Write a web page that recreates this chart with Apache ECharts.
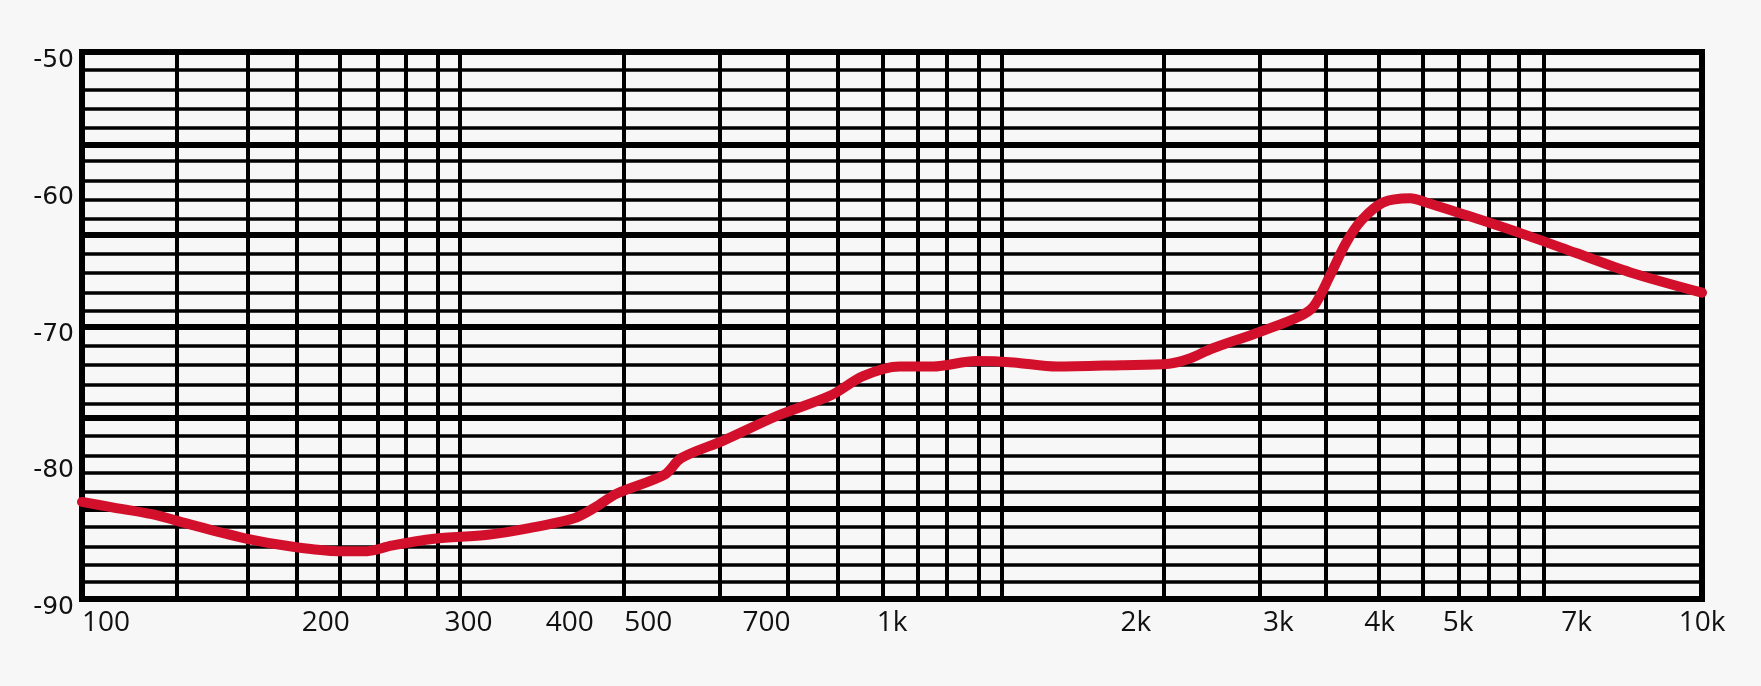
<!DOCTYPE html>
<html>
<head>
<meta charset="utf-8">
<style>
  html, body { margin: 0; padding: 0; background: #f7f7f7; }
  #chart { width: 1761px; height: 686px; }
</style>
<script src="https://cdn.jsdelivr.net/npm/echarts@6/dist/echarts.min.js"></script>
</head>
<body>
<div id="chart"></div>
<script>
// response curve (Hz, dB)
var freqs = [100, 109, 122, 137, 160, 183, 207, 225, 241, 272, 317, 358, 405, 430, 457,
    524, 549, 620, 722, 841, 921, 1022, 1124, 1270, 1413, 1596, 1916, 2198, 2335, 2480,
    2804, 3168, 3316, 3470, 3632, 3800, 4042, 4362, 4565, 5156, 6003, 6993, 8142, 10000];
var levels = [-82.9, -83.3, -83.8, -84.6, -85.6, -86.2, -86.5, -86.5, -86.1, -85.6, -85.3, -84.8, -84.1, -83.3, -82.3,
    -80.9, -79.7, -78.4, -76.6, -75.1, -73.7, -73.0, -73.0, -72.6, -72.7, -73.0, -72.9, -72.8, -72.4, -71.7,
    -70.6, -69.4, -68.6, -66.4, -64.0, -62.3, -61.0, -60.7, -61.0, -62.0, -63.3, -64.7, -66.1, -67.6];

// axis labels
var xTicks = [100, 200, 300, 400, 500, 700, 1000, 2000, 3000, 4000, 5000, 7000, 10000];

// paper grid lines as drawn on the sheet
var hThin = [-51.32, -52.78, -54.17, -55.52, -57.97, -59.43, -60.82, -62.18, -64.74, -66.16,
    -67.59, -68.94, -71.46, -72.89, -74.31, -75.70, -78.08, -79.54, -80.79, -82.18,
    -84.74, -86.20, -87.51, -88.76];
var hBold = [-56.80, -63.38, -70.11, -76.76, -83.38];
var vLines = [131, 160, 184, 208, 232, 251, 275, 293, 466, 612, 744, 856, 975, 1077, 1170,
    1278, 1366, 2163, 2848, 3428, 3993, 4524, 5015, 5447, 5932, 6381];

var gridLines = [];
hThin.forEach(function (v) {
    gridLines.push({ yAxis: v, lineStyle: { width: 3.5 } });
});
hBold.forEach(function (v) {
    gridLines.push({ yAxis: v, lineStyle: { width: 6 } });
});
vLines.forEach(function (f) {
    gridLines.push({ xAxis: f, lineStyle: { width: 4 } });
});

var chart = echarts.init(document.getElementById('chart'), null, { renderer: 'canvas' });

var option = {
    backgroundColor: '#f7f7f7',
    animation: false,
    grid: {
        left: 82,
        right: 59,
        top: 52,
        bottom: 87,
        show: true,
        borderColor: '#000',
        borderWidth: 6,
        backgroundColor: 'transparent'
    },
    xAxis: {
        type: 'log',
        logBase: 10,
        min: 100,
        max: 10000,
        axisLine: { show: false },
        axisTick: { show: false },
        splitLine: { show: false },
        axisLabel: {
            customValues: xTicks,
            formatter: function (v) {
                return v >= 1000 ? (v / 1000) + 'k' : String(v);
            },
            fontFamily: 'Open Sans',
            fontSize: 28,
            color: '#111',
            margin: 10,
            alignMinLabel: 'left',
            showMinLabel: true,
            showMaxLabel: true
        }
    },
    yAxis: {
        type: 'value',
        min: -90,
        max: -50,
        interval: 10,
        axisLine: { show: false },
        axisTick: { show: false },
        splitLine: { show: false },
        axisLabel: {
            fontFamily: 'DejaVu Sans',
            fontSize: 25,
            color: '#111',
            margin: 8,
            verticalAlign: 'top',
            lineHeight: 17
        }
    },
    series: [
        {
            name: 'grid',
            type: 'line',
            data: [],
            z: 1,
            silent: true,
            markLine: {
                silent: true,
                symbol: ['none', 'none'],
                label: { show: false },
                lineStyle: { color: '#000', type: 'solid' },
                data: gridLines
            }
        },
        {
            name: 'response',
            type: 'line',
            data: freqs.map(function (f, i) { return [f, levels[i]]; }),
            smooth: 0.3,
            showSymbol: false,
            z: 5,
            lineStyle: {
                color: '#d3102c',
                width: 10,
                cap: 'round',
                join: 'round'
            }
        }
    ]
};

chart.setOption(option);
</script>
</body>
</html>
